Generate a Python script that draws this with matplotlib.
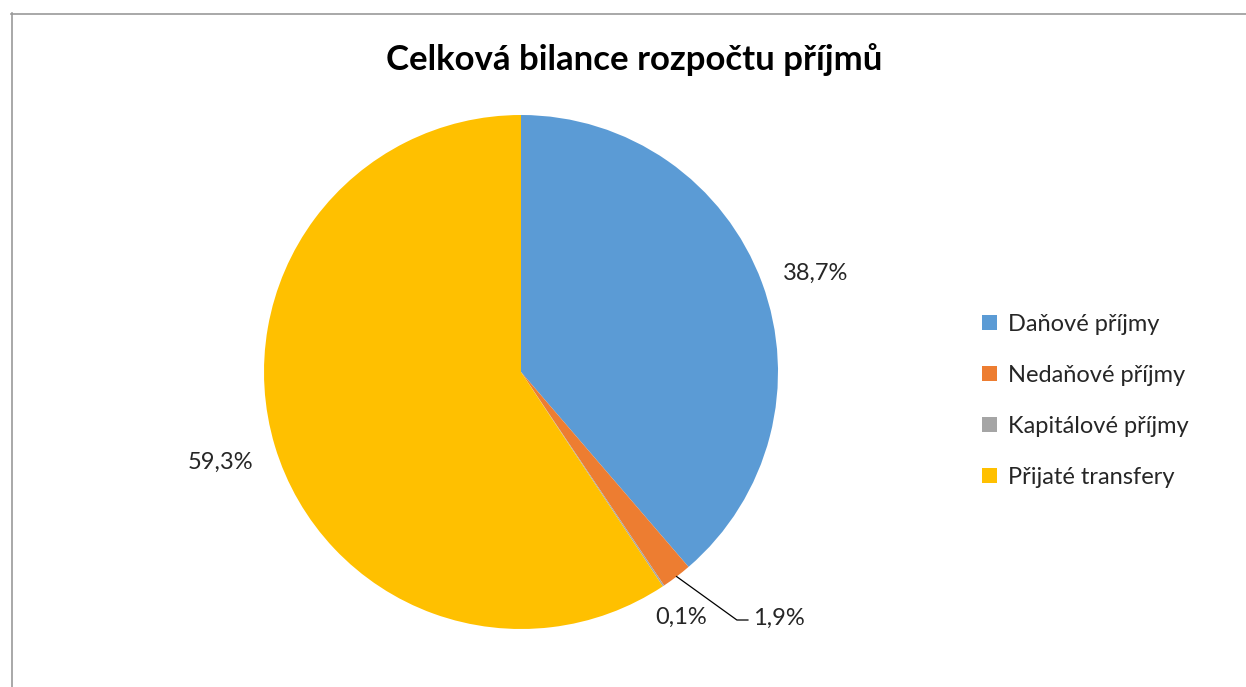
import numpy as np
import matplotlib.pyplot as plt
from matplotlib.lines import Line2D

plt.rcParams['font.family'] = ['Lato', 'DejaVu Sans']

# data
categories = ['Daňové příjmy', 'Nedaňové příjmy', 'Kapitálové příjmy', 'Přijaté transfery']
shares = [38.7, 1.9, 0.1, 59.3]
colors = ['#5B9BD5', '#ED7D31', '#A5A5A5', '#FFC000']
title = 'Celková bilance rozpočtu příjmů'

W, H = 1246, 687
fig = plt.figure(figsize=(W / 100, H / 100), dpi=100)

# pie area: centre (521, 372) px, radius 257 px
cx, cy, r = 521, 372, 257
ax = fig.add_axes([(cx - r) / W, (H - cy - r) / H, 2 * r / W, 2 * r / H])
wedges, _ = ax.pie(shares, colors=colors, startangle=90, counterclock=False,
                   radius=1, wedgeprops=dict(linewidth=0))
ax.set_xlim(-1, 1)
ax.set_ylim(-1, 1)
ax.set_aspect('equal')
ax.axis('off')


def fmt(v):
    return ('%.1f%%' % v).replace('.', ',')


# percentage labels: (radius factor, angle tweak in degrees)
label_pos = [(1.21, -1.8), None, (1.14, -0.6), (1.22, 0)]
for w, v, lp in zip(wedges, shares, label_pos):
    mid = (w.theta1 + w.theta2) / 2
    if lp is None:
        # leader line for the small orange slice
        m = np.deg2rad(mid)
        p0 = (np.cos(m), np.sin(m))
        elbow = (0.84, -0.965)
        end = (0.883, -0.965)
        ax.plot([p0[0], elbow[0], end[0]], [p0[1], elbow[1], end[1]],
                color='black', lw=0.9, clip_on=False)
        ax.text(end[0] + 0.02, end[1] + 0.005, fmt(v), ha='left', va='center',
                fontsize=17, color='#262626')
    else:
        lr, dt = lp
        a = np.deg2rad(mid + dt)
        ax.text(lr * np.cos(a), lr * np.sin(a), fmt(v), ha='center', va='center',
                fontsize=17, color='#262626')

fig.text(634 / W, 1 - 60 / H, title, ha='center', va='center',
         fontsize=25, fontweight='bold', color='black')

fig.legend(wedges, categories, loc='center left',
           bbox_to_anchor=(982 / W, 1 - 401 / H), frameon=False,
           fontsize=17, handlelength=0.62, handleheight=0.62, handletextpad=0.5,
           labelspacing=1.27, borderpad=0, borderaxespad=0, labelcolor='#262626')

# chart area border (only left and top visible)
fig.add_artist(Line2D([11.5 / W, 11.5 / W], [0, 1 - 13 / H], color='#9a9a9a', lw=1.2))
fig.add_artist(Line2D([11 / W, 1], [1 - 13.5 / H, 1 - 13.5 / H], color='#9a9a9a', lw=1.2))

fig.savefig('out.png', dpi=100)
